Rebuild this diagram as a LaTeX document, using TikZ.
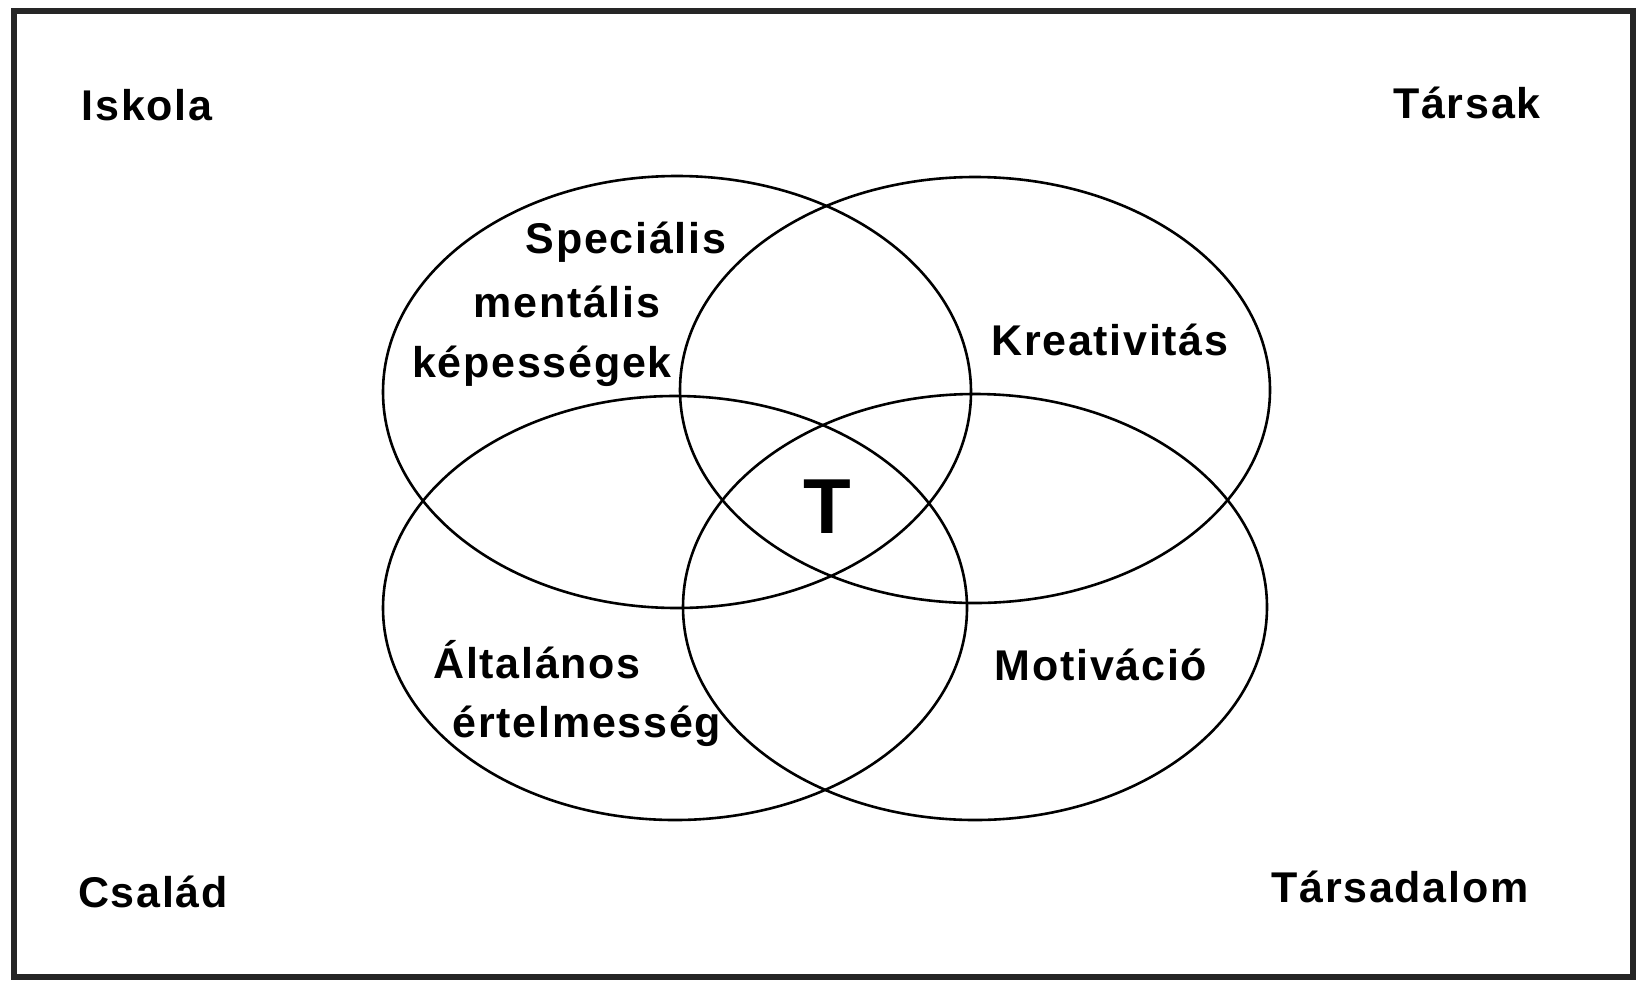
\documentclass[tikz,border=0pt]{standalone}
\usepackage{fontspec}
\setmainfont[LetterSpace=4]{Liberation Sans}
\tikzset{
  lbl/.style={font=\bfseries\fontsize{43}{50}\selectfont,anchor=base,inner sep=0pt},
  ring/.style={line width=2.6pt,black}
}
\begin{document}
\begin{tikzpicture}[x=1pt,y=-1pt]
\useasboundingbox (0,0) rectangle (1640,980);
\fill[white](0,0) rectangle (1640,980);
\draw[line width=6pt,black!85](14,11) rectangle (1633,977);
% the four rings
\draw[ring](677,392) ellipse [x radius=294pt,y radius=216pt];
\draw[ring](975,390) ellipse [x radius=295pt,y radius=213pt];
\draw[ring](675,608) ellipse [x radius=292pt,y radius=212pt];
\draw[ring](975,607) ellipse [x radius=292pt,y radius=213pt];
% corner labels
\node[lbl] (iskola) at (147,120) {Iskola};
\node[lbl] (tarsak) at (1467,118) {Társak};
\node[lbl] (csalad) at (153,907) {Család};
\node[lbl] (tarsadalom) at (1400,902) {Társadalom};
% ring labels
\node[lbl] (spec1) at (626,253) {Speciális};
\node[lbl] (spec2) at (567,317) {mentális};
\node[lbl] (spec3) at (542,377) {képességek};
\node[lbl] (kreat) at (1110,355) {Kreativitás};
\node[lbl] (alt1) at (537,678) {Általános};
\node[lbl] (alt2) at (587,737) {értelmesség};
\node[lbl] (motiv) at (1101,680) {Motiváció};
\node[lbl,font=\bfseries\fontsize{78}{90}\selectfont] (tal) at (827,533) {T};
\end{tikzpicture}
\end{document}
